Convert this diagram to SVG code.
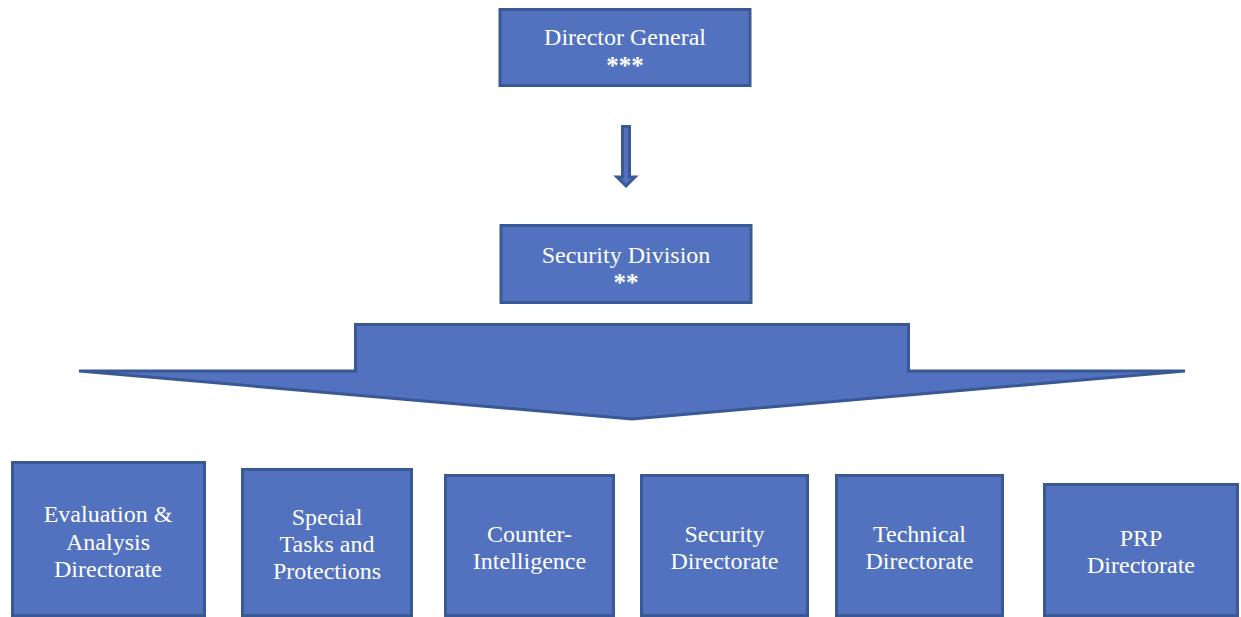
<svg xmlns="http://www.w3.org/2000/svg" width="1241" height="617" viewBox="0 0 1241 617">
<style>
.box{fill:#5272BF;stroke:#3A5894;stroke-width:3}
.t{font-family:"Liberation Serif","Times New Roman",serif;font-size:24px;fill:#FFFFFF;text-anchor:middle}
.s{font-family:"Liberation Serif","Times New Roman",serif;font-size:25px;font-weight:bold;fill:#FFFFFF;text-anchor:middle}
</style>
<rect width="1241" height="617" fill="#FFFFFF"/>
<g id="connectors">
<path class="box" d="M622.5,126.5 L629.5,126.5 L629.5,177 L635,177 L626,186 L617,177 L622.5,177 Z" stroke-width="2"/>
<path class="box" d="M355.5,324.5 L908.5,324.5 L908.5,371 L1185,371 L632,419 L79,371 L355.5,371 Z"/>
</g>
<g id="director-general">
<rect class="box" x="500" y="9.5" width="250" height="76"/>
<text class="t" x="625" y="45">Director General</text>
<text class="s" x="625" y="74">***</text>
</g>
<g id="security-division">
<rect class="box" x="501" y="225.5" width="250" height="77"/>
<text class="t" x="626" y="263">Security Division</text>
<text class="s" x="626" y="291">**</text>
</g>
<g id="evaluation-analysis">
<rect class="box" x="12.5" y="462.5" width="192" height="153"/>
<text class="t" x="108" y="522">Evaluation &amp;</text>
<text class="t" x="108" y="550">Analysis</text>
<text class="t" x="108" y="577">Directorate</text>
</g>
<g id="special-tasks">
<rect class="box" x="242.5" y="469.5" width="169" height="146"/>
<text class="t" x="327" y="525">Special</text>
<text class="t" x="327" y="552">Tasks and</text>
<text class="t" x="327" y="579">Protections</text>
</g>
<g id="counter-intelligence">
<rect class="box" x="445.5" y="475.5" width="168" height="140"/>
<text class="t" x="529.5" y="542">Counter-</text>
<text class="t" x="529.5" y="569">Intelligence</text>
</g>
<g id="security-directorate">
<rect class="box" x="641.5" y="475.5" width="166" height="140"/>
<text class="t" x="724.5" y="542">Security</text>
<text class="t" x="724.5" y="569">Directorate</text>
</g>
<g id="technical-directorate">
<rect class="box" x="836.5" y="475.5" width="166" height="140"/>
<text class="t" x="919.5" y="542">Technical</text>
<text class="t" x="919.5" y="569">Directorate</text>
</g>
<g id="prp-directorate">
<rect class="box" x="1044.5" y="484.5" width="193" height="131"/>
<text class="t" x="1141" y="546">PRP</text>
<text class="t" x="1141" y="573">Directorate</text>
</g>
</svg>
